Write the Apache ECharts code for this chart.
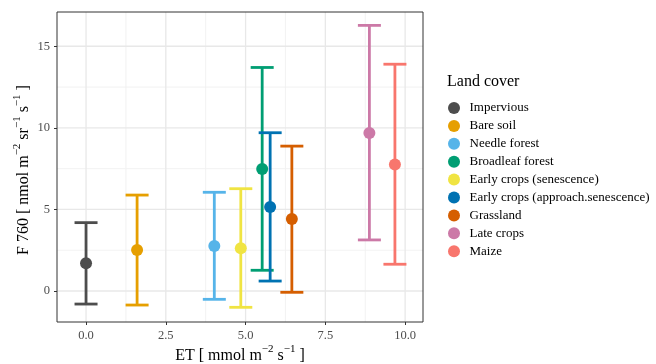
<!DOCTYPE html>
<html>
<head>
<meta charset="utf-8">
<script src="https://cdn.jsdelivr.net/npm/echarts@6/dist/echarts.min.js"></script>
<style>
  html, body { margin: 0; padding: 0; background: #ffffff; }
  #chart { width: 656px; height: 364px; }
</style>
</head>
<body>
<div id="chart"></div>
<script>
// Land cover classes and their ET / F760 summary statistics
const landCovers = [
  'Impervious', 'Bare soil', 'Needle forest', 'Broadleaf forest',
  'Early crops (senescence)', 'Early crops (approach.senescence)',
  'Grassland', 'Late crops', 'Maize'
];
const etValues  = [0.00, 1.60, 4.02, 5.52, 4.85, 5.77, 6.45, 8.88, 9.68];
const f760Mean  = [1.70, 2.51, 2.76, 7.48, 2.62, 5.15, 4.41, 9.68, 7.76];
const f760Low   = [-0.80, -0.86, -0.51, 1.27, -1.00, 0.61, -0.08, 3.13, 1.64];
const f760High  = [4.19, 5.88, 6.05, 13.70, 6.27, 9.70, 8.88, 16.28, 13.90];

// Axis ticks and grid lines
const xTickValues  = [0, 2.5, 5, 7.5, 10];
const xMinorValues = [1.25, 3.75, 6.25, 8.75];
const yTickValues  = [0, 5, 10, 15];
const yMinorValues = [2.5, 7.5, 12.5];

const coverColors = ['#4D4D4D', '#E69F00', '#56B4E9', '#009E73', '#F0E442',
                     '#0072B2', '#D55E00', '#CC79A7', '#F8766D'];

const FONT = 'Liberation Serif';
const X_RANGE = [-0.91, 10.56];
const Y_RANGE = [-1.9, 17.1];

const chart = echarts.init(document.getElementById('chart'), null, { renderer: 'canvas' });

// Grid lines: [orientation (0 = vertical, 1 = horizontal), value, major flag]
const gridLineData = [];
xMinorValues.forEach(v => gridLineData.push([0, v, 0]));
yMinorValues.forEach(v => gridLineData.push([1, v, 0]));
xTickValues.forEach(v => gridLineData.push([0, v, 1]));
yTickValues.forEach(v => gridLineData.push([1, v, 1]));

const gridSeries = {
  type: 'custom',
  name: '__grid',
  silent: true,
  z: 0,
  data: gridLineData,
  encode: { x: -1, y: -1 },
  renderItem: function (params, api) {
    const cs = params.coordSys;
    const horiz = api.value(0) === 1;
    const v = api.value(1);
    const major = api.value(2) === 1;
    const style = { stroke: major ? '#E8E8E8' : '#F1F1F1', lineWidth: major ? 1.3 : 0.9 };
    if (horiz) {
      const py = api.coord([0, v])[1];
      return { type: 'line', shape: { x1: cs.x, y1: py, x2: cs.x + cs.width, y2: py }, style };
    }
    const px = api.coord([v, 0])[0];
    return { type: 'line', shape: { x1: px, y1: cs.y, x2: px, y2: cs.y + cs.height }, style };
  }
};

// One error-bar + point series per land cover
const CAP_HALF = 11.5;
const coverSeries = landCovers.map((name, i) => ({
  type: 'custom',
  name: name,
  z: 2,
  itemStyle: { color: coverColors[i] },
  data: [[etValues[i], f760Mean[i], f760Low[i], f760High[i]]],
  encode: { x: 0, y: [1, 2, 3] },
  renderItem: function (params, api) {
    const color = api.visual('color');
    const x = api.value(0);
    const pMean = api.coord([x, api.value(1)]);
    const pLow = api.coord([x, api.value(2)]);
    const pHigh = api.coord([x, api.value(3)]);
    const lineStyle = { stroke: color, lineWidth: 2.8 };
    return {
      type: 'group',
      children: [
        { type: 'line', shape: { x1: pLow[0], y1: pLow[1], x2: pHigh[0], y2: pHigh[1] }, style: lineStyle },
        { type: 'line', shape: { x1: pHigh[0] - CAP_HALF, y1: pHigh[1], x2: pHigh[0] + CAP_HALF, y2: pHigh[1] }, style: lineStyle },
        { type: 'line', shape: { x1: pLow[0] - CAP_HALF, y1: pLow[1], x2: pLow[0] + CAP_HALF, y2: pLow[1] }, style: lineStyle },
        { type: 'circle', shape: { cx: pMean[0], cy: pMean[1], r: 6 }, style: { fill: color } }
      ]
    };
  }
}));

const titleRich = {
  main: { fontFamily: FONT, fontSize: 16, color: '#000', lineHeight: 20, verticalAlign: 'bottom' },
  sup: { fontFamily: FONT, fontSize: 11, color: '#000', lineHeight: 11, verticalAlign: 'top' }
};

const option = {
  backgroundColor: '#ffffff',
  animation: false,
  grid: {
    left: 57, right: 233, top: 12, bottom: 42,
    show: true, borderColor: '#333333', borderWidth: 1, backgroundColor: 'transparent', z: 3
  },
  xAxis: {
    type: 'value',
    min: X_RANGE[0], max: X_RANGE[1],
    axisLine: { show: false, onZero: false },
    splitLine: { show: false },
    axisTick: { show: true, inside: false, length: 3, lineStyle: { color: '#333333', width: 1 }, customValues: xTickValues },
    axisLabel: {
      customValues: xTickValues,
      margin: 7,
      color: '#4D4D4D', fontFamily: FONT, fontSize: 12.5,
      formatter: v => v.toFixed(1)
    }
  },
  yAxis: {
    type: 'value',
    min: Y_RANGE[0], max: Y_RANGE[1],
    axisLine: { show: false, onZero: false },
    splitLine: { show: false },
    axisTick: { show: true, inside: false, length: 3, lineStyle: { color: '#333333', width: 1 }, customValues: yTickValues },
    axisLabel: {
      customValues: yTickValues,
      margin: 7,
      color: '#4D4D4D', fontFamily: FONT, fontSize: 12.5,
      formatter: v => String(v)
    }
  },
  legend: {
    orient: 'vertical',
    left: 448, top: 101.5,
    padding: 0,
    icon: 'circle',
    itemWidth: 21, itemHeight: 12, itemGap: 4.9,
    data: landCovers,
    textStyle: { fontFamily: FONT, fontSize: 13, color: '#000', lineHeight: 13 }
  },
  graphic: [
    {
      type: 'text', left: 447, top: 74,
      style: { text: 'Land cover', fontFamily: FONT, fontSize: 16, fill: '#000' }
    },
    {
      type: 'text', x: 240, y: 354,
      style: {
        text: '{main|ET [ mmol m}{sup|−2}{main| s}{sup|−1}{main| ]}',
        rich: titleRich, align: 'center', verticalAlign: 'middle'
      }
    },
    {
      type: 'text', x: 22, y: 170, rotation: Math.PI / 2,
      style: {
        text: '{main|F 760 [ nmol m}{sup|−2}{main| sr}{sup|−1}{main| s}{sup|−1}{main| ]}',
        rich: titleRich, align: 'center', verticalAlign: 'middle'
      }
    }
  ],
  series: [gridSeries].concat(coverSeries)
};

chart.setOption(option);
</script>
</body>
</html>
